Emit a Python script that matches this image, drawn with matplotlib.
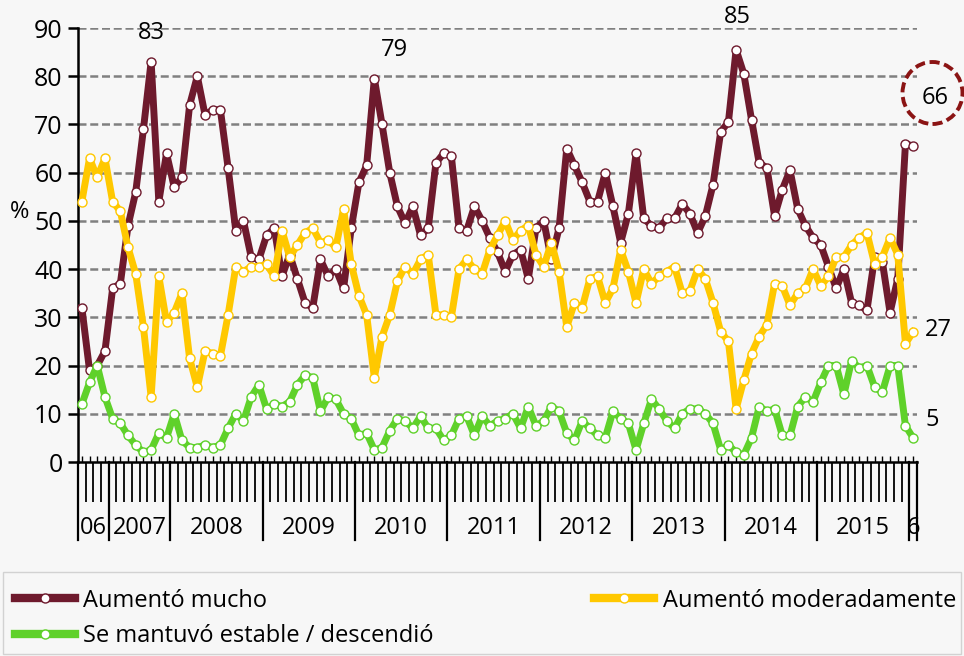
import matplotlib
matplotlib.use('Agg')
import matplotlib.pyplot as plt
import numpy as np
from matplotlib.lines import Line2D
from matplotlib.patches import Ellipse, Rectangle
import matplotlib.transforms as mtransforms

plt.rcParams['font.family'] = ['Open Sans', 'DejaVu Sans']

# monthly survey shares (%), Sep 2006 - Jan 2016
mucho = [32, 19, 20, 23, 36, 37, 49, 56, 69, 83, 54, 64, 57, 59, 74, 80, 72, 73,
         73, 61, 48, 50, 42.5, 42, 47, 48.5, 38.5, 43, 38, 33, 32, 42, 38.5, 40, 36, 48.5,
         58, 61.5, 79.5, 70, 60, 53, 49.5, 53, 47, 48.5, 62, 64, 63.5, 48.5, 48, 53, 50, 46.5,
         43.5, 39.5, 43, 44, 38, 48.5, 50, 42, 48.5, 65, 61.5, 58, 54, 54, 60, 53, 45.5, 51.5,
         64, 50.5, 49, 48.5, 50.5, 50.5, 53.5, 51.5, 47.5, 51, 57.5, 68.5, 70.5, 85.5, 80.5, 71,
         62, 61, 51, 56.5, 60.5, 52.5, 49, 46.5, 45, 40.5, 36, 40, 33, 32.5, 31.5, 42.5, 41.5,
         31, 38, 66, 65.5]
moderado = [54, 63, 59, 63, 54, 52, 44.5, 39, 28, 13.5, 38.5, 29, 31, 35, 21.5, 15.5, 23, 22.5,
            22, 30.5, 40.5, 39.5, 40.5, 40.5, 41, 38.5, 48, 42.5, 45, 47.5, 48.5, 45.5, 46, 44.5, 52.5, 41,
            34.5, 30.5, 17.5, 26, 30.5, 37.5, 40.5, 39, 42, 43, 30.5, 30.5, 30, 40, 42, 40, 39, 44,
            47, 50, 46, 48, 49, 43, 40.5, 45.5, 39.5, 28, 33, 32, 38, 38.5, 33, 36, 44, 39.5,
            33, 40, 37, 38.5, 39.5, 40.5, 35, 35.5, 40, 38, 33, 27, 25, 11, 17, 22.5,
            26, 28.5, 37, 36.5, 32.5, 35, 36, 40, 36.5, 38.5, 42.5, 42.5, 45, 46.5, 47.5, 41, 42.5,
            46.5, 43, 24.5, 27]
estable = [12, 16.5, 20, 13.5, 9, 8, 5.5, 3.5, 2, 2.5, 6, 5, 10, 4.5, 3, 3, 3.5, 3,
           3.5, 7, 10, 8.5, 13.5, 16, 11, 12, 11.5, 12.5, 16, 18, 17.5, 10.5, 13.5, 13, 10, 9,
           5.5, 6, 2.5, 3, 6.5, 9, 8.5, 7, 9.5, 7, 7, 4.5, 5.5, 9, 9.5, 5.5, 9.5, 7.5,
           8.5, 9, 10, 7, 11.5, 7.5, 8.5, 11.5, 10.5, 6, 4.5, 8.5, 7, 5.5, 5, 10.5, 9, 8,
           2.5, 8, 13, 11, 8.5, 7, 10, 11, 11, 10, 8, 2.5, 3.5, 2, 1.5, 5,
           11.5, 10.5, 11, 5.5, 5.5, 11.5, 13.5, 12.5, 16.5, 20, 20, 14, 21, 19.5, 20, 15.5, 14.5,
           20, 20, 7.5, 5]

year_labels = ['06', '2007', '2008', '2009', '2010', '2011', '2012', '2013', '2014', '2015', '6']
year_sizes = [4, 8, 12, 12, 12, 12, 12, 12, 12, 12, 1]

bg = '#f7f7f7'
c_mucho = '#6e1a2d'
c_mod = '#ffc800'
c_est = '#5fd12a'

x = np.arange(len(mucho))

fig = plt.figure(figsize=(9.64, 6.56), dpi=100, facecolor=bg)
ax = fig.add_axes([78/964, 1-462/656, (917-78)/964, (462-28)/656])
ax.set_facecolor(bg)
ax.set_xlim(-0.5, len(mucho) - 0.5)
ax.set_ylim(0, 90)

# gridlines
ax.set_yticks(np.arange(0, 91, 10))
for v in range(10, 91, 10):
    ax.axhline(v, color='#808080', lw=1.8, ls=(0, (3.2, 1.5)), zorder=1)

for s in ['top', 'right']:
    ax.spines[s].set_visible(False)
for s in ['left', 'bottom']:
    ax.spines[s].set_linewidth(1.8)
    ax.spines[s].set_color('black')
ax.spines['left'].set_zorder(2)

ax.tick_params(axis='y', direction='out', length=7, width=1.8, labelsize=18, pad=4)

# category ticks
bounds = np.arange(-0.5, len(mucho), 1.0)
ax.set_xticks(bounds)
ax.set_xticklabels([])
ax.tick_params(axis='x', which='major', direction='out', length=29, width=1.3)
ax.set_xticks(np.arange(-0.5, len(mucho), 0.5), minor=True)
ax.tick_params(axis='x', which='minor', direction='in', length=4, width=1.0)

# year separators and labels
trans = mtransforms.blended_transform_factory(ax.transData, ax.transAxes)
edges = np.concatenate([[0], np.cumsum(year_sizes)]) - 0.5
for e in edges:
    ax.plot([e, e], [0, -78/434], color='black', lw=1.6, transform=trans, clip_on=False)
for i, lab in enumerate(year_labels):
    mid = (edges[i] + edges[i+1]) / 2
    ax.text(mid, -66/434, lab, transform=trans, ha='center', va='center', fontsize=17)

kw = dict(lw=5, marker='o', ms=6.5, mfc='white', mew=1.0, solid_joinstyle='round', clip_on=False)
ax.plot(x, mucho, color=c_mucho, mec=c_mucho, zorder=3, **kw)
ax.plot(x, moderado, color=c_mod, mec=c_mod, zorder=4, **kw)
ax.plot(x, estable, color=c_est, mec=c_est, zorder=5, **kw)

# annotations
ax.text(9, 89, '83', ha='center', va='center', fontsize=17, clip_on=False)
ax.text(40.6, 85.5, '79', ha='center', va='center', fontsize=17, clip_on=False)
ax.text(85.2, 92.2, '85', ha='center', va='center', fontsize=17, clip_on=False)
ax.text(111.3, 27.4, '27', ha='center', va='center', fontsize=17, clip_on=False)
ax.text(110.5, 8.8, '5', ha='center', va='center', fontsize=17, clip_on=False)
ax.text(110.8, 75.5, '66', ha='center', va='center', fontsize=17, clip_on=False)
fig.patches.append(Ellipse((932.5/964, 1-93/656), 60/964, 62/656, transform=fig.transFigure,
                           fill=False, edgecolor='#8b1414', lw=2.8, ls=(0, (2.6, 1.2))))

fig.text(20/964, 1-212/656, '%', ha='center', va='center', fontsize=17)

# legend box
fig.patches.append(Rectangle((3/964, 2/656), 958/964, 82/656, transform=fig.transFigure,
                             fill=False, edgecolor='#d2d2d2', lw=1))
lkw = dict(lw=6, marker='o', ms=6.5, mfc='white', mew=1.0)
handles = [Line2D([], [], color=c_mucho, mec=c_mucho, **lkw),
           Line2D([], [], color=c_est, mec=c_est, **lkw),
           Line2D([], [], color=c_mod, mec=c_mod, **lkw)]
labels = ['Aumentó mucho', 'Se mantuvó estable / descendió', 'Aumentó moderadamente']
fig.legend(handles, labels, loc='upper left', bbox_to_anchor=(-2/964, 1-572/656), ncol=2,
           frameon=False, fontsize=17, handlelength=2.55, handletextpad=0.35,
           labelspacing=0.5, columnspacing=6.8, borderpad=0.2)

fig.savefig('out.png', dpi=100, facecolor=bg)
